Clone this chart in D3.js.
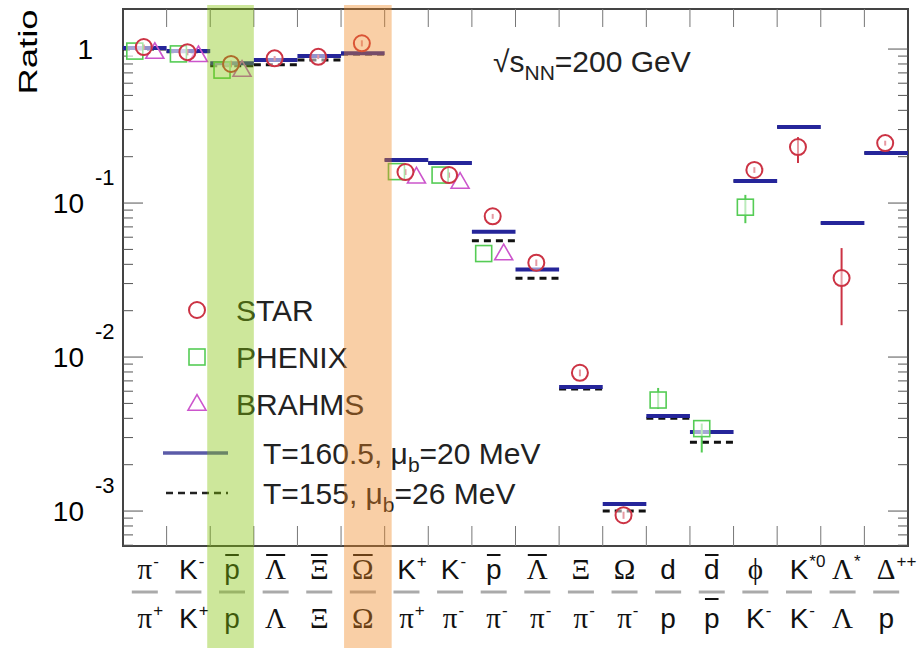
<!DOCTYPE html>
<html>
<head>
<meta charset="utf-8">
<script src="https://cdn.jsdelivr.net/npm/d3@7"></script>
<style>
  body { margin: 0; background: #fff; }
  text { font-family: "Liberation Sans", Arial, sans-serif; }
</style>
</head>
<body>
<div id="chart"></div>
<script>
// particle ratios, one entry per column
const numerators = [
  { t: "π", sup: "-", greek: true }, { t: "K", sup: "-" }, { t: "p", bar: true },
  { t: "Λ", bar: true, greek: true }, { t: "Ξ", bar: true, greek: true }, { t: "Ω", bar: true, greek: true },
  { t: "K", sup: "+" }, { t: "K", sup: "-" }, { t: "p", bar: true },
  { t: "Λ", bar: true, greek: true }, { t: "Ξ", greek: true }, { t: "Ω", greek: true },
  { t: "d" }, { t: "d", bar: true }, { t: "ϕ", greek: true },
  { t: "K", sup: "*0" }, { t: "Λ", sup: "*", greek: true }, { t: "Δ", sup: "++", greek: true }
];
const denominators = [
  { t: "π", sup: "+", greek: true }, { t: "K", sup: "+" }, { t: "p" },
  { t: "Λ", greek: true }, { t: "Ξ", greek: true }, { t: "Ω", greek: true },
  { t: "π", sup: "+", greek: true }, { t: "π", sup: "-", greek: true }, { t: "π", sup: "-", greek: true },
  { t: "π", sup: "-", greek: true }, { t: "π", sup: "-", greek: true }, { t: "π", sup: "-", greek: true },
  { t: "p" }, { t: "p", bar: true }, { t: "K", sup: "-" },
  { t: "K", sup: "-" }, { t: "Λ", greek: true }, { t: "p" }
];

const star   = [1.03, 0.955, 0.80, 0.87, 0.89, 1.09, 0.159, 0.152, 0.082, 0.041, 0.0079, 0.00094, null, null, 0.164, 0.231, 0.0326, 0.245];
const starErr = [[0.99,1.07],[0.91,1.0],[0.76,0.84],[0.84,0.9],[0.86,0.92],[1.04,1.14],[0.152,0.166],[0.146,0.158],[0.079,0.085],[0.039,0.043],[0.0075,0.0083],[0.00089,0.00099],null,null,[0.157,0.171],[0.182,0.268],[0.0161,0.051],[0.236,0.254]];
const phenix = [0.97, 0.93, 0.73, null, null, null, 0.16, 0.152, 0.047, null, null, null, 0.00526, 0.00343, 0.094, null, null, null];
const phenixErr = [null,null,null,null,null,null,null,null,null,null,null,null,[0.0046,0.0063],[0.0024,0.0037],[0.074,0.113],null,null,null];
const brahms = [0.955, 0.91, 0.73, null, null, null, 0.148, 0.137, 0.047, null, null, null, null, null, null, null, null, null];

const model160 = [1.015, 0.97, 0.81, 0.85, 0.90, 0.94, 0.19, 0.182, 0.065, 0.037, 0.0064, 0.00111, 0.00414, 0.00326, 0.139, 0.312, 0.0741, 0.211];
const model155 = [1.0, 0.96, 0.78, 0.79, 0.85, 0.93, 0.19, 0.182, 0.057, 0.0325, 0.0062, 0.0010, 0.0040, 0.0028, 0.139, 0.312, 0.0741, 0.211];

const yTicks = [1e-3, 1e-2, 1e-1, 1];
const yTickLabels = [["10", "-3"], ["10", "-2"], ["10", "-1"], ["1", ""]];

const width = 919, height = 648;
const margin = { top: 9, right: 11, bottom: 102, left: 123 };
const idx = d3.range(numerators.length);

const svg = d3.select("#chart").append("svg")
  .attr("width", width).attr("height", height);
svg.append("rect").attr("width", width).attr("height", height).attr("fill", "#fff");

const x = d3.scaleBand().domain(idx).range([margin.left, width - margin.right]);
const y = d3.scaleLog().domain([5.93e-4, 1.82]).range([height - margin.bottom, margin.top]);
const step = x.bandwidth();

// frame
svg.append("rect")
  .attr("x", margin.left).attr("y", margin.top)
  .attr("width", width - margin.left - margin.right)
  .attr("height", height - margin.top - margin.bottom)
  .attr("fill", "none").attr("stroke", "#444").attr("stroke-width", 2);

// log ticks on left and right side
const minor = [];
[-4, -3, -2, -1, 0].forEach(e => d3.range(1, 10).forEach(m => minor.push(m * Math.pow(10, e))));
const inRange = minor.filter(v => v >= y.domain()[0] && v <= y.domain()[1]);
[margin.left, width - margin.right].forEach((ax, side) => {
  const dir = side === 0 ? 1 : -1;
  svg.append("g").selectAll("line").data(inRange).join("line")
    .attr("x1", ax).attr("x2", v => ax + dir * (yTicks.includes(+v.toPrecision(3)) ? 20 : 10))
    .attr("y1", v => y(v)).attr("y2", v => y(v))
    .attr("stroke", "#555").attr("stroke-width", 1);
});

// x ticks at column boundaries
const bounds = idx.slice(1);
svg.append("g").selectAll("line").data(bounds).join("line")
  .attr("x1", d => x(d)).attr("x2", d => x(d))
  .attr("y1", margin.top).attr("y2", margin.top + 18)
  .attr("stroke", "#777");
svg.append("g").selectAll("line").data(bounds).join("line")
  .attr("x1", d => x(d)).attr("x2", d => x(d))
  .attr("y1", height - margin.bottom).attr("y2", height - margin.bottom - 20)
  .attr("stroke", "#777");

// y tick labels
const yl = svg.append("g").selectAll("g").data(yTicks).join("g");
yl.append("text")
  .attr("x", (d, i) => yTickLabels[i][1] ? 84 : 93)
  .attr("y", d => y(d) + 10)
  .attr("text-anchor", "end")
  .attr("font-size", 28)
  .text((d, i) => yTickLabels[i][0]);
yl.append("text")
  .attr("x", 95)
  .attr("y", d => y(d) - 18)
  .attr("font-size", 22)
  .text((d, i) => yTickLabels[i][1]);

// axis title
svg.append("text")
  .attr("transform", "translate(37,52) rotate(-90)")
  .attr("text-anchor", "middle")
  .attr("font-size", 25)
  .attr("textLength", 85).attr("lengthAdjust", "spacingAndGlyphs")
  .text("Ratio");

// model lines
svg.append("g").selectAll("line").data(idx).join("line")
  .attr("x1", i => x(i)).attr("x2", i => x(i) + step)
  .attr("y1", i => y(model155[i])).attr("y2", i => y(model155[i]))
  .attr("stroke", "#111").attr("stroke-width", 3).attr("stroke-dasharray", "7,5");
svg.append("g").selectAll("line").data(idx).join("line")
  .attr("x1", i => x(i)).attr("x2", i => x(i) + step)
  .attr("y1", i => y(model160[i])).attr("y2", i => y(model160[i]))
  .attr("stroke", "#25259a").attr("stroke-width", 4);

const cx = i => x(i) + step / 2;
const cStar = "#cc3344", cPhenix = "#55cc55", cBrahms = "#cc55cc";

function errBars(vals, errs, dx, color) {
  svg.append("g").selectAll("line").data(idx.filter(i => errs[i])).join("line")
    .attr("x1", i => cx(i) + dx).attr("x2", i => cx(i) + dx)
    .attr("y1", i => y(errs[i][0])).attr("y2", i => y(errs[i][1]))
    .attr("stroke", color).attr("stroke-width", 2);
}
errBars(phenix, phenixErr, -10, cPhenix);
errBars(star, starErr, -1, cStar);

// PHENIX squares
svg.append("g").selectAll("rect").data(idx.filter(i => phenix[i] != null)).join("rect")
  .attr("x", i => cx(i) - 10 - 8).attr("y", i => y(phenix[i]) - 8)
  .attr("width", 16).attr("height", 16)
  .attr("fill", "#fff").attr("fill-opacity", 0.6)
  .attr("stroke", cPhenix).attr("stroke-width", 1.6);
// BRAHMS triangles
const tri = d3.symbol().type(d3.symbolTriangle).size(140);
svg.append("g").selectAll("path").data(idx.filter(i => brahms[i] != null)).join("path")
  .attr("d", tri)
  .attr("transform", i => `translate(${cx(i) + 10},${y(brahms[i]) + 1})`)
  .attr("fill", "none").attr("stroke", cBrahms).attr("stroke-width", 1.6);
// STAR circles
svg.append("g").selectAll("circle").data(idx.filter(i => star[i] != null)).join("circle")
  .attr("cx", i => cx(i) - 1).attr("cy", i => y(star[i])).attr("r", 8)
  .attr("fill", "#fff").attr("fill-opacity", 0.5)
  .attr("stroke", cStar).attr("stroke-width", 2);

// energy label
const en = svg.append("text").attr("x", 493).attr("y", 72).attr("font-size", 30).attr("fill", "#222");
en.append("tspan").text("√s");
en.append("tspan").attr("dy", 8).attr("font-size", 21).text("NN");
en.append("tspan").attr("dy", -8).text("=200 GeV");

// legend
const legendItems = ["STAR", "PHENIX", "BRAHMS"];
const legendY = [310, 357, 404];
const lg = svg.append("g");
lg.append("circle").attr("cx", 197).attr("cy", legendY[0]).attr("r", 8)
  .attr("fill", "none").attr("stroke", cStar).attr("stroke-width", 2);
lg.append("rect").attr("x", 189).attr("y", legendY[1] - 8).attr("width", 16).attr("height", 16)
  .attr("fill", "none").attr("stroke", cPhenix).attr("stroke-width", 1.6);
lg.append("path").attr("d", tri).attr("transform", `translate(197,${legendY[2] + 1})`)
  .attr("fill", "none").attr("stroke", cBrahms).attr("stroke-width", 1.6);
lg.selectAll("text.item").data(legendItems).join("text").attr("class", "item")
  .attr("x", 236).attr("y", (d, i) => legendY[i] + 11)
  .attr("font-size", 30).attr("fill", "#222").text(d => d);

lg.append("line").attr("x1", 163).attr("x2", 228).attr("y1", 453).attr("y2", 453)
  .attr("stroke", "#5b5ba8").attr("stroke-width", 3.5);
lg.append("line").attr("x1", 166).attr("x2", 228).attr("y1", 493).attr("y2", 493)
  .attr("stroke", "#222").attr("stroke-width", 2.5).attr("stroke-dasharray", "7,5");
const modelLabels = [["T=160.5, μ", "b", "=20 MeV"], ["T=155, μ", "b", "=26 MeV"]];
modelLabels.forEach((m, k) => {
  const t = lg.append("text").attr("x", 263).attr("y", 464 + k * 40).attr("font-size", 30).attr("fill", "#222");
  t.append("tspan").text(m[0]);
  t.append("tspan").attr("dy", 8).attr("font-size", 21).text(m[1]);
  t.append("tspan").attr("dy", -8).text(m[2]);
});

// x labels as fractions
function drawPart(g, p, xc, base, barY) {
  const t = g.append("text").attr("x", xc).attr("y", base).attr("text-anchor", "middle")
    .attr("font-size", p.greek ? 29 : 28)
    .style("font-family", p.greek ? "'Liberation Serif', 'DejaVu Serif', serif" : null)
    .attr("fill", "#111").text(p.t);
  const w = t.node().getComputedTextLength();
  if (p.sup) {
    g.append("text").attr("x", xc + w / 2 + 1).attr("y", base - 12)
      .attr("font-size", 17).attr("fill", "#111").text(p.sup);
  }
  if (p.bar) {
    g.append("line").attr("x1", xc - w / 2 + 1).attr("x2", xc + w / 2 - 1)
      .attr("y1", barY).attr("y2", barY).attr("stroke", "#111").attr("stroke-width", 2);
  }
}
const xl = svg.append("g");
idx.forEach(i => {
  const g = xl.append("g");
  drawPart(g, numerators[i], cx(i), 579, 555);
  drawPart(g, denominators[i], cx(i), 628, 599);
  g.append("line").attr("x1", cx(i) - 13).attr("x2", cx(i) + 13)
    .attr("y1", 592).attr("y2", 592).attr("stroke", "#aaa").attr("stroke-width", 3);
});

// highlighted columns, laid over everything
svg.append("rect").attr("x", x(2) - 3).attr("y", 5).attr("width", step + 3).attr("height", height - 5)
  .attr("fill", "#82c305").attr("fill-opacity", 0.4);
svg.append("rect").attr("x", x(5) + 3).attr("y", 5).attr("width", step + 4).attr("height", height - 5)
  .attr("fill", "#f08720").attr("fill-opacity", 0.4);
</script>
</body>
</html>
